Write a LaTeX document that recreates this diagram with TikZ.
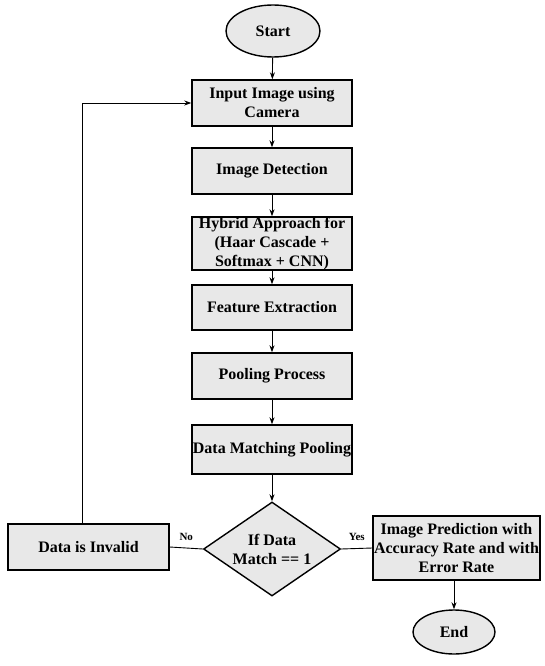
\documentclass[tikz,border=0pt]{standalone}
\usepackage{fontspec}
\setmainfont{Liberation Serif}
\usetikzlibrary{shapes.geometric,arrows.meta}
\definecolor{boxfill}{HTML}{E8E8E8}
\begin{document}
\begin{tikzpicture}[x=1pt,y=-1pt,
  every node/.style={font=\bfseries\fontsize{16}{19}\selectfont, align=center},
  procbox/.style={draw, line width=1.4pt, fill=boxfill, minimum width=160pt, inner sep=0pt},
  termnode/.style={draw, line width=1.4pt, fill=boxfill, ellipse, inner sep=0pt},
  decnode/.style={draw, line width=1.4pt, fill=boxfill, diamond, aspect=1.46, inner sep=0pt, minimum width=137pt, minimum height=94pt},
  flow/.style={line width=0.9pt, -{Stealth[length=7pt,width=5pt]}},
  plain/.style={line width=0.9pt},
  lbl/.style={font=\bfseries\fontsize{11}{13}\selectfont}
]
\useasboundingbox (0,0) rectangle (545,666);
\node[termnode, minimum width=94pt, minimum height=52pt] (start) at (273,31) {Start};
\node[procbox, minimum height=46pt] (input) at (272,103) {Input Image using\\Camera};
\node[procbox, minimum height=46pt] (detect) at (272,171) {Image Detection};
\node[procbox, minimum height=53pt] (hybrid) at (272,243.5) {Hybrid Approach for\\(Haar Cascade +\\Softmax + CNN)};
\node[procbox, minimum height=45pt] (feat) at (272,307.5) {Feature Extraction};
\node[procbox, minimum height=46pt] (pool) at (272,376) {Pooling Process};
\node[procbox, minimum height=49pt] (match) at (272,449.5) {Data Matching Pooling};
\node[decnode] (dec) at (272,549) {If Data\\Match == 1};
\node[procbox, minimum width=161pt, minimum height=46pt] (invalid) at (88.5,547) {Data is Invalid};
\node[procbox, minimum width=167pt, minimum height=64pt] (pred) at (456.5,548) {Image Prediction with\\Accuracy Rate and with\\Error Rate};
\node[termnode, minimum width=82pt, minimum height=44pt] (end) at (454,632) {End};
\coordinate (corner) at (82,103);

\draw[flow] (start) -- (input);
\draw[flow] (input) -- (detect);
\draw[flow] (detect) -- (hybrid);
\draw[flow] (hybrid) -- (feat);
\draw[flow] (feat) -- (pool);
\draw[flow] (pool) -- (match);
\draw[flow] (match) -- (dec);
\draw[plain] (dec.west) -- node[lbl, above, pos=0.5, yshift=4pt] {No} (invalid.east);
\draw[plain] (dec.east) -- node[lbl, above, pos=0.5, yshift=4pt] {Yes} (pred.west);
\draw[flow] (invalid.north -| corner) -- (corner) -- (input.west);
\draw[flow] (pred.south -| end) -- (end);
\end{tikzpicture}
\end{document}
